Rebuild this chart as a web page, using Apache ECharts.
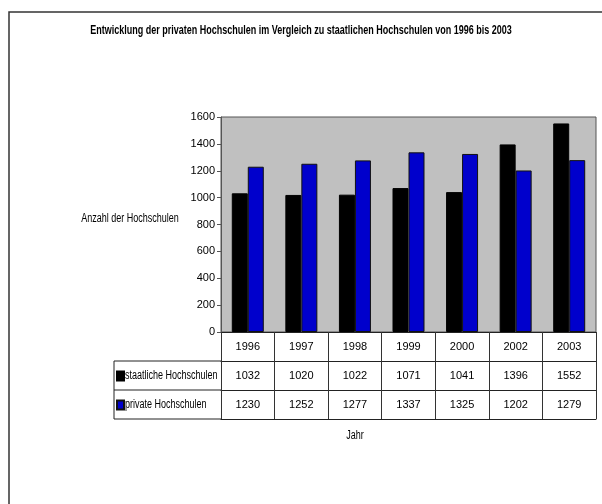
<!DOCTYPE html>
<html><head><meta charset="utf-8">
<script src="https://cdn.jsdelivr.net/npm/echarts@6/dist/echarts.min.js"></script>
<style>html,body{margin:0;padding:0;background:#fff}#c{width:602px;height:504px}</style>
</head><body><div id="c"></div>
<script>
var years = ['1996','1997','1998','1999','2000','2002','2003'];
var staatlich = [1032,1020,1022,1071,1041,1396,1552];
var privat = [1230,1252,1277,1337,1325,1202,1279];
var yTicks = [0,200,400,600,800,1000,1200,1400,1600];
var seriesNames = ['staatliche Hochschulen','private Hochschulen'];
var titleText = 'Entwicklung der privaten Hochschulen im Vergleich zu staatlichen Hochschulen von 1996 bis 2003';
var yName = 'Anzahl der Hochschulen';
var xName = 'Jahr';

var FONT = "'Liberation Sans',Arial,sans-serif";
var GL = 221, GR = 596, GT = 117, GB = 332, ROW = 29, LEG = 114;
var SX = 0.75;

var chart = echarts.init(document.getElementById('c'), null, {renderer:'canvas'});

function rowAxis(offset, labels, showTicks, showLabels){
  return {
    type:'category', data: years, position:'bottom', offset: offset, gridIndex:0,
    boundaryGap:true,
    axisLine:{show:true, lineStyle:{color:'#222', width:1}},
    axisTick:{show:showTicks, length:ROW, interval:0, lineStyle:{color:'#333', width:1}},
    axisLabel:{show:showLabels, interval:0, margin:9, color:'#000', fontFamily:FONT, fontSize:11,
      formatter:function(v,i){ return labels ? String(labels[i]) : v; }}
  };
}

function legendAt(name, rowIdx){
  return {data:[name], orient:'vertical', left:LEG+2, top:GB+rowIdx*ROW+ROW/2-5, icon:'rect',
    itemWidth:7, itemHeight:9, formatter:function(){return '';},
    textStyle:{fontSize:1}, selectedMode:false, padding:0};
}
function scaledText(txt, x, y, align, bold){
  return {type:'text', x:x, y:y, scaleX:SX, silent:true,
    style:{text:txt, font:(bold?'bold ':'')+'12px '+FONT, fill:'#000', textAlign:align, textVerticalAlign:'middle'}};
}

var option = {
  animation:false,
  backgroundColor:'#fff',
  textStyle:{fontFamily:FONT},
  grid:{left:GL, right:602-GR, top:GT, bottom:504-GB, show:true,
    backgroundColor:'#C0C0C0', borderColor:'#555', borderWidth:1},
  legend:[ legendAt(seriesNames[0],1), legendAt(seriesNames[1],2) ],
  xAxis:[
    rowAxis(0, null, true, true),
    rowAxis(ROW, staatlich, true, true),
    rowAxis(2*ROW, privat, true, true),
    rowAxis(3*ROW, null, false, false)
  ],
  yAxis:{type:'value', min:yTicks[0], max:yTicks[yTicks.length-1], interval:yTicks[1]-yTicks[0],
    splitLine:{show:false},
    axisLine:{show:true, lineStyle:{color:'#555'}},
    axisTick:{show:true, length:4, lineStyle:{color:'#555'}},
    axisLabel:{margin:6, color:'#000', fontFamily:FONT, fontSize:11, formatter:function(v){return String(v);}}},
  series:[
    {name:seriesNames[0], type:'bar', data:staatlich, xAxisIndex:0, barWidth:16, barGap:'0%',
     itemStyle:{color:'#000000', borderColor:'#000', borderWidth:1}},
    {name:seriesNames[1], type:'bar', data:privat, xAxisIndex:0, barWidth:16, barGap:'0%',
     itemStyle:{color:'#0000CC', borderColor:'#111', borderWidth:1}}
  ],
  graphic:[
    {type:'rect', shape:{x:9, y:12, width:620, height:520}, style:{fill:null, stroke:'#333', lineWidth:1.5}, silent:true},
    {type:'line', shape:{x1:LEG, y1:GB+ROW, x2:GL, y2:GB+ROW}, style:{stroke:'#222', lineWidth:1}},
    {type:'line', shape:{x1:LEG, y1:GB+2*ROW, x2:GL, y2:GB+2*ROW}, style:{stroke:'#222', lineWidth:1}},
    {type:'line', shape:{x1:LEG, y1:GB+3*ROW, x2:GL, y2:GB+3*ROW}, style:{stroke:'#222', lineWidth:1}},
    {type:'line', shape:{x1:LEG, y1:GB+ROW, x2:LEG, y2:GB+3*ROW}, style:{stroke:'#222', lineWidth:1}},
    scaledText(titleText, 301, 31, 'center', true),
    scaledText(yName, 130, 219, 'center', false),
    scaledText(xName, 355, 436, 'center', false),
    scaledText(seriesNames[0], 125, GB+ROW+ROW/2+0.5, 'left', false),
    scaledText(seriesNames[1], 125, GB+2*ROW+ROW/2+0.5, 'left', false)
  ]
};
chart.setOption(option);
</script></body></html>
